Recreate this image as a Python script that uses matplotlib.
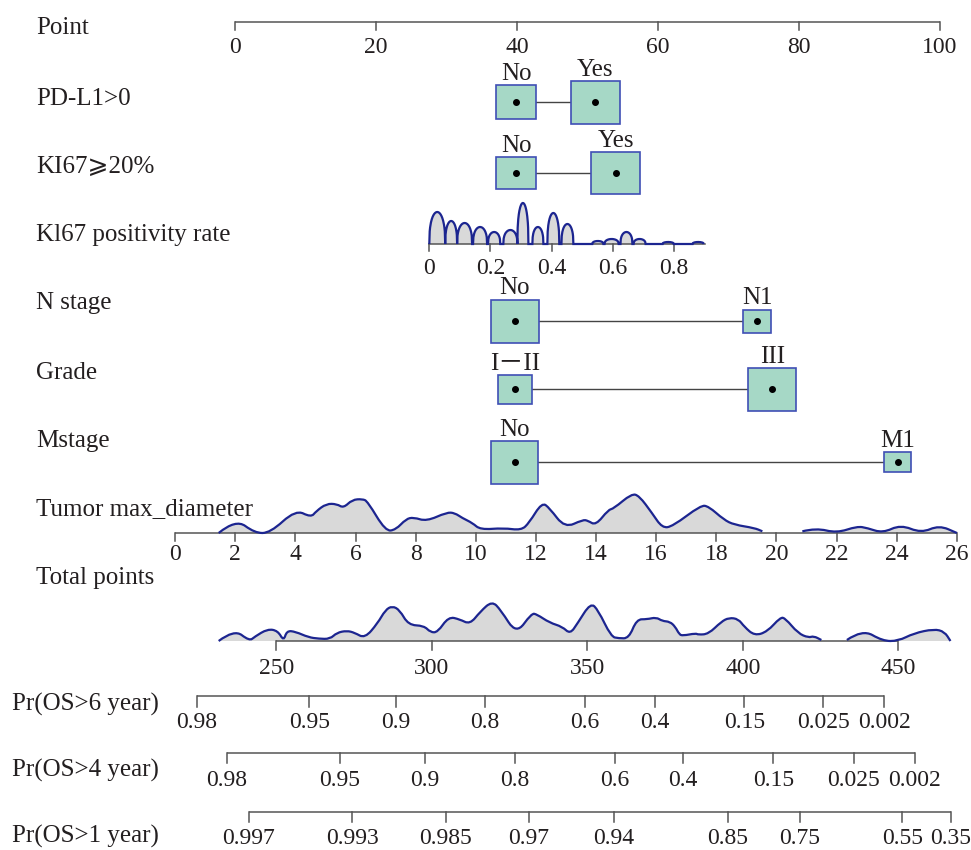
import numpy as np
import matplotlib
matplotlib.use("Agg")
import matplotlib.pyplot as plt
from matplotlib.path import Path
from matplotlib.patches import PathPatch

plt.rcParams['font.family'] = ['Liberation Serif', 'DejaVu Serif', 'DejaVu Sans',
                               'Noto Sans CJK SC']

# ---- data ----
point_ticks = [0, 20, 40, 60, 80, 100]

# categorical predictors: level names and their points
pdl1_levels = ["No", "Yes"]
pdl1_points = [39.9, 51.1]
ki67cat_levels = ["No", "Yes"]
ki67cat_points = [39.9, 54.0]
nstage_levels = ["No", "N1"]
nstage_points = [39.7, 74.1]
grade_levels = ["I\uff0dII", "III"]
grade_points = [39.7, 76.2]
mstage_levels = ["No", "M1"]
mstage_points = [39.7, 94.0]

# continuous: KI67 positivity rate (points = a + b*value)
ki67_ticks = [0, 0.2, 0.4, 0.6, 0.8]
ki67_pts0, ki67_pts1 = 27.56, 62.27          # points at 0 and at 0.8
# density arches: start, end, height
ki67_arch_start = [0.0, 0.052, 0.091, 0.143, 0.192, 0.242, 0.288, 0.337, 0.386, 0.432,
                   0.533, 0.573, 0.625, 0.668, 0.763, 0.861]
ki67_arch_end = [0.052, 0.091, 0.140, 0.189, 0.232, 0.288, 0.324, 0.373, 0.425, 0.471,
                 0.569, 0.619, 0.664, 0.707, 0.799, 0.897]
ki67_arch_h = [32, 23, 21, 17, 12, 14, 41, 17, 31, 20, 3, 5, 12, 5, 2, 2]

# continuous: tumor max diameter
tumor_ticks = list(range(0, 27, 2))
tumor_pts0, tumor_pts26 = -8.5, 102.4
tumor_x = [1.45, 2.02, 2.65, 3.16, 4.01, 4.52, 4.69, 5.03, 5.38, 5.60, 5.89, 6.23, 6.40,
           7.0, 7.34, 7.68, 7.93, 8.36, 9.04, 9.30, 9.55, 9.89, 10.15, 10.92, 11.51,
           11.77, 12.20, 12.45, 12.96, 13.56, 13.73, 13.99, 14.41, 14.58, 15.18, 15.43,
           15.86, 16.20, 16.55, 17.48, 17.74, 18.25, 18.59, 19.27, 19.53]
tumor_h = [0, 14, 0, 0, 23.3, 15.7, 21.7, 29.3, 29, 25, 33.3, 34, 31.7, 1.7, 3.3, 14,
           15.7, 11.7, 20.7, 20, 15, 10, 3.3, 5, 2.7, 10, 30.7, 25, 5, 13.3, 12.3, 7.7,
           23.3, 24.3, 39.3, 37.3, 20, 5, 6.7, 27.7, 26.7, 13.3, 8.3, 5, 1.7]
tumor_x2 = [20.86, 21.32, 22.0, 22.68, 23.02, 23.53, 24.13, 24.81, 25.41, 26.0]
tumor_h2 = [1.7, 5, 0, 6.7, 5, 0, 8.3, 0, 7.7, 0]

# total points
total_ticks = [250, 300, 350, 400, 450]
total_x = [231.5, 236.5, 241.4, 243.1, 247.2, 250.5, 252.4, 253.4, 256.2, 260.4, 263.7,
           267.3, 269.5, 272.7, 275.2, 278.5, 282.6, 285.1, 287.3, 289.7, 292.5, 297.5,
           299.6, 301.9, 305.4, 309.0, 312.3, 315.6, 319.4, 322.2, 327.2, 332.1, 333.8,
           337.9, 342.0, 344.5, 346.9, 351.1, 353.5, 357.7, 360.1, 363.4, 365.9, 369.2,
           372.2, 374.1, 376.6, 378.3, 379.6, 380.7, 384.9, 385.7, 389.0, 393.1, 395.6,
           398.6, 400.5, 403.8, 407.9, 412.1, 413.7, 417.8, 421.2, 422.8, 425.3]
total_h = [0, 11.7, 0, 4.3, 12, 10.3, 0, 10.3, 9.3, 3.7, 2.3, 2, 8.3, 10.3, 8.3, 2.7,
           17.7, 31, 35, 31, 16, 15.3, 8.7, 8.7, 24.3, 21.7, 16.7, 29.3, 40, 31, 6.7,
           27.7, 26.7, 18.3, 14.3, 7, 17.7, 38.3, 31, 4.3, 2.7, 2.7, 21.7, 21.7, 23.7,
           20, 19.3, 14.3, 6.7, 5.3, 7.7, 6.3, 7, 19.3, 23.3, 22, 14.3, 5.3, 9.3, 23.7,
           22.7, 7.7, 3.3, 5, 1]
total_x2 = [433.5, 438.5, 445.0, 450.0, 455.0, 461.5, 464.9, 466.8]
total_h2 = [1, 11.7, 0, 0, 7.7, 12, 9.3, 0]

# survival probability scales: labels and total points where they sit
os6_labels = ["0.98", "0.95", "0.9", "0.8", "0.6", "0.4", "0.15", "0.025", "0.002"]
os6_total = [224.4, 260.6, 288.5, 317.0, 349.3, 371.7, 400.5, 425.9, 445.5]
os4_labels = ["0.98", "0.95", "0.9", "0.8", "0.6", "0.4", "0.15", "0.025", "0.002"]
os4_total = [234.2, 270.4, 297.7, 326.8, 358.9, 380.9, 409.9, 435.7, 455.3]
os1_labels = ["0.997", "0.993", "0.985", "0.97", "0.94", "0.85", "0.75", "0.55", "0.35"]
os1_total = [241.2, 274.4, 304.5, 331.3, 358.5, 395.3, 418.3, 451.3, 466.9]

# ---- layout ----
fig = plt.figure(figsize=(9.71, 8.5), dpi=100)
ax = fig.add_axes([0, 0, 1, 1])
ax.set_xlim(0, 971)
ax.set_ylim(850, 0)
ax.axis('off')

AXC = '#555555'
NAVY = '#1c2590'
BOXF = '#a6d8c6'
BOXE = '#3f4fb5'
TXT = '#231f20'
FS = 18
TFS = 17


def ppx(p):
    return 235 + 7.05 * np.asarray(p, dtype=float)


def tpx(t):
    return 276.2 + 3.11 * (np.asarray(t, dtype=float) - 250)


def ki67_px(v):
    return ppx(ki67_pts0 + (ki67_pts1 - ki67_pts0) * np.asarray(v) / 0.8)


def tumor_px(v):
    return ppx(tumor_pts0 + (tumor_pts26 - tumor_pts0) * np.asarray(v) / 26)


def row_label(text, y, x=36):
    ax.text(x, y, text, fontsize=FS, ha='left', va='center', color=TXT)


def scale_axis(xs, labels, y, tick_len=8, label_dy=24):
    xs = np.asarray(xs)
    ax.plot([xs.min(), xs.max()], [y, y], color=AXC, lw=1.1, solid_capstyle='butt')
    for xv, lab in zip(xs, labels):
        ax.plot([xv, xv], [y, y + tick_len], color=AXC, lw=1.1)
        ax.text(xv, y + label_dy, lab, fontsize=TFS, ha='center', va='center', color=TXT)


def cat_row(points, levels, y, sizes):
    xs = ppx(points)
    ax.plot(xs, [y, y], color='#444444', lw=1.0, zorder=1)
    for xv, lev, (w, h) in zip(xs, levels, sizes):
        ax.add_patch(plt.Rectangle((xv - w / 2, y - h / 2), w, h, facecolor=BOXF,
                                   edgecolor=BOXE, lw=1.2, zorder=2))
        ax.plot(xv, y, 'o', color='black', ms=4, zorder=3)
        ax.text(xv, y - h / 2, lev, fontsize=FS, ha='center', va='bottom', color=TXT)


def smooth_path(px, top):
    # quadratic bezier through midpoints, so corners of the read points are rounded
    verts = [(px[0], top[0])]
    codes = [Path.MOVETO]
    for i in range(1, len(px) - 1):
        verts += [(px[i], top[i]), ((px[i] + px[i + 1]) / 2, (top[i] + top[i + 1]) / 2)]
        codes += [Path.CURVE3, Path.CURVE3]
    verts.append((px[-1], top[-1]))
    codes.append(Path.LINETO)
    return verts, codes


def density(px, h, base, smooth=True):
    px = np.asarray(px, dtype=float)
    top = base - np.asarray(h, dtype=float)
    if smooth:
        verts, codes = smooth_path(px, top)
    else:
        verts = list(zip(px, top))
        codes = [Path.MOVETO] + [Path.LINETO] * (len(px) - 1)
    fill_v = verts + [(px[-1], base), (px[0], base), (px[0], top[0])]
    fill_c = codes + [Path.LINETO, Path.LINETO, Path.CLOSEPOLY]
    ax.add_patch(PathPatch(Path(fill_v, fill_c), facecolor='#d9d9d9', lw=0, zorder=1))
    ax.add_patch(PathPatch(Path(verts, codes), facecolor='none', edgecolor=NAVY,
                           lw=1.6, zorder=3))


# Point
row_label("Point", 28)
scale_axis(ppx(point_ticks), [str(t) for t in point_ticks], 22, tick_len=8, label_dy=25)

# PD-L1
row_label("PD-L1>0", 99)
cat_row(pdl1_points, pdl1_levels, 102, [(40, 34), (49, 43)])

# KI67 >= 20%
row_label("KI67\u2a7e20%", 167)
cat_row(ki67cat_points, ki67cat_levels, 173, [(40, 32), (49, 42)])

# KI67 positivity rate
row_label("Kl67 positivity rate", 235)
base = 244
ax.plot(ki67_px([0, 0.9]), [base, base], color=AXC, lw=1.1, zorder=2)
arch_x, arch_h = [], []
for s, e, hh in zip(ki67_arch_start, ki67_arch_end, ki67_arch_h):
    u = np.linspace(-1, 1, 40)
    arch_x.extend(ki67_px(s + (e - s) * (u + 1) / 2))
    arch_h.extend(hh * np.sqrt(1 - u ** 2) ** 0.8)
density(arch_x, arch_h, base, smooth=False)
for t in ki67_ticks:
    xv = ki67_px(t)
    ax.plot([xv, xv], [base, base + 7], color=AXC, lw=1.1)
    ax.text(xv, base + 24, f"{t:g}", fontsize=TFS, ha='center', va='center', color=TXT)

# N stage
row_label("N stage", 303)
cat_row(nstage_points, nstage_levels, 321, [(48, 43), (28, 23)])

# Grade
row_label("Grade", 373)
cat_row(grade_points, grade_levels, 389, [(34, 29), (48, 43)])

# M stage
row_label("Mstage", 441)
cat_row(mstage_points, mstage_levels, 462, [(47, 43), (27, 20)])

# Tumor max diameter
row_label("Tumor max_diameter", 509)
base = 533
density(tumor_px(tumor_x), tumor_h, base)
density(tumor_px(tumor_x2), tumor_h2, base)
scale_axis(tumor_px(tumor_ticks), [str(t) for t in tumor_ticks], base, tick_len=8, label_dy=21)

# Total points
row_label("Total points", 578)
base = 641
density(tpx(total_x), total_h, base)
density(tpx(total_x2), total_h2, base)
scale_axis(tpx(total_ticks), [str(t) for t in total_ticks], base, tick_len=9, label_dy=27)

# Probability scales
row_label("Pr(OS>6 year)", 704, x=12)
scale_axis(tpx(os6_total), os6_labels, 696, tick_len=11, label_dy=26)
row_label("Pr(OS>4 year)", 770, x=12)
scale_axis(tpx(os4_total), os4_labels, 753, tick_len=10, label_dy=27)
row_label("Pr(OS>1 year)", 836, x=12)
scale_axis(tpx(os1_total), os1_labels, 812, tick_len=10, label_dy=27)

fig.savefig("out.png", dpi=100)
